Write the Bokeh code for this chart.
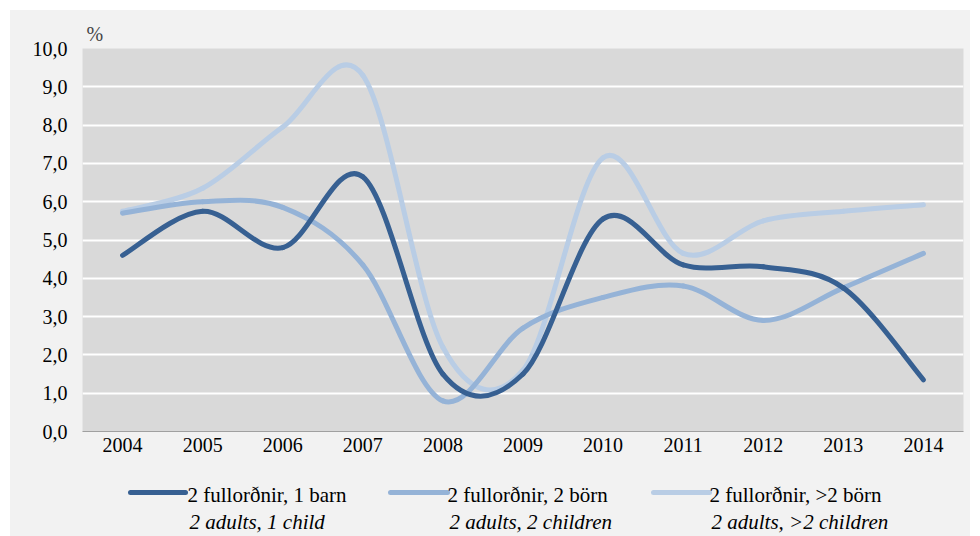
from bokeh.plotting import figure
from bokeh.models import FixedTicker, Range1d, ColumnDataSource
from bokeh.layouts import column
from bokeh.core.properties import value
from bokeh.embed import file_html
from bokeh.resources import INLINE

# ---------------- data ----------------
years = ["2004", "2005", "2006", "2007", "2008", "2009", "2010", "2011", "2012", "2013", "2014"]
one_child = [4.6, 5.75, 4.8, 6.65, 1.5, 1.5, 5.55, 4.35, 4.3, 3.75, 1.35]
two_children = [5.7, 6.0, 5.85, 4.35, 0.8, 2.7, 3.5, 3.8, 2.9, 3.75, 4.65]
more_children = [5.75, 6.35, 7.95, 9.3, 2.2, 1.6, 7.15, 4.65, 5.5, 5.75, 5.92]
y_ticks = [0, 1, 2, 3, 4, 5, 6, 7, 8, 9, 10]
labels_is = ["2 fullorðnir, 1 barn", "2 fullorðnir, 2 börn", "2 fullorðnir, >2 börn"]
labels_en = ["2 adults, 1 child", "2 adults, 2 children", "2 adults, >2 children"]

colors = ["#376092", "#95b3d7", "#b9cde5"]
FONT = "Liberation Serif"
BG = "#f2f2f2"


def smooth_segments(ys):
    xs = list(range(len(ys)))
    n = len(ys)
    d = dict(x0=[], y0=[], x1=[], y1=[], cx0=[], cy0=[], cx1=[], cy1=[])
    for i in range(n - 1):
        xm, ym = (xs[i - 1], ys[i - 1]) if i > 0 else (xs[i], ys[i])
        xp, yp = (xs[i + 2], ys[i + 2]) if i + 2 < n else (xs[i + 1], ys[i + 1])
        d["x0"].append(xs[i]); d["y0"].append(ys[i])
        d["x1"].append(xs[i + 1]); d["y1"].append(ys[i + 1])
        d["cx0"].append(xs[i] + (xs[i + 1] - xm) / 6.0)
        d["cy0"].append(ys[i] + (ys[i + 1] - ym) / 6.0)
        d["cx1"].append(xs[i + 1] - (xp - xs[i]) / 6.0)
        d["cy1"].append(ys[i + 1] - (yp - ys[i]) / 6.0)
    return ColumnDataSource(d)


p = figure(width=960, height=448, output_backend="svg", toolbar_location=None,
           x_range=Range1d(-0.5, len(years) - 0.5), y_range=Range1d(0, 10),
           min_border_left=72, min_border_right=7, min_border_top=38, min_border_bottom=27,
           title="%")
p.background_fill_color = "#d9d9d9"
p.border_fill_color = BG
p.outline_line_color = None

p.title.text_font = FONT
p.title.text_font_size = "20px"
p.title.text_font_style = "normal"
p.title.align = "left"
p.title.offset = 4
p.title.standoff = 8

p.xaxis.ticker = FixedTicker(ticks=list(range(len(years))))
p.xaxis.major_label_overrides = {i: y for i, y in enumerate(years)}
p.yaxis.ticker = FixedTicker(ticks=y_ticks)
p.yaxis.major_label_overrides = {t: f"{t:.1f}".replace(".", ",") for t in y_ticks}

for ax in (p.xaxis[0], p.yaxis[0]):
    ax.major_label_text_font = FONT
    ax.major_label_text_font_size = "20px"
    ax.major_label_text_color = "#000000"
    ax.major_tick_line_color = None
    ax.minor_tick_line_color = None
    ax.major_tick_out = 0
    ax.major_tick_in = 0
p.xaxis.axis_line_color = "#a0a0a0"
p.xaxis.axis_line_width = 1
p.xaxis.major_label_standoff = 6
p.yaxis.axis_line_color = None
p.yaxis.major_label_standoff = 15

p.xgrid.grid_line_color = None
p.ygrid.ticker = FixedTicker(ticks=y_ticks[1:])
p.ygrid.grid_line_color = "white"
p.ygrid.grid_line_width = 2

series = [one_child, two_children, more_children]
for idx in [2, 1, 0]:
    src = smooth_segments(series[idx])
    p.bezier(x0="x0", y0="y0", x1="x1", y1="y1", cx0="cx0", cy0="cy0", cx1="cx1", cy1="cy1",
             source=src, line_color=colors[idx], line_width=5, line_cap="round")

# ---------------- legend (own panel under the chart) ----------------
leg = figure(width=960, height=78, output_backend="svg", toolbar_location=None,
             x_range=Range1d(0, 881), y_range=Range1d(0, 78),
             min_border_left=72, min_border_right=7, min_border_top=0, min_border_bottom=0)
leg.axis.visible = False
leg.grid.visible = False
leg.background_fill_color = BG
leg.border_fill_color = BG
leg.outline_line_color = None

seg_x0 = [48, 308, 571]
seg_x1 = [103, 365, 627]
txt_x = [105, 365, 627]
it_x = [107, 367, 629]
line_y = 44
row1_y = 42
row2_y = 15

leg.segment(x0=seg_x0, y0=[line_y] * 3, x1=seg_x1, y1=[line_y] * 3,
            line_color=colors, line_width=5, line_cap="round")
leg.text(x=txt_x, y=[row1_y] * 3, text=labels_is, text_font=value(FONT),
         text_font_size="21px", text_baseline="middle", text_align="left", text_color="#000000")
leg.text(x=it_x, y=[row2_y] * 3, text=labels_en, text_font=value(FONT),
         text_font_size="21px", text_font_style="italic", text_baseline="middle",
         text_align="left", text_color="#000000")

layout = column(p, leg, spacing=0)
layout.margin = (10, 0, 0, 10)
layout.styles = {"background-color": BG}
open("out.html", "w").write(file_html(layout, INLINE))
